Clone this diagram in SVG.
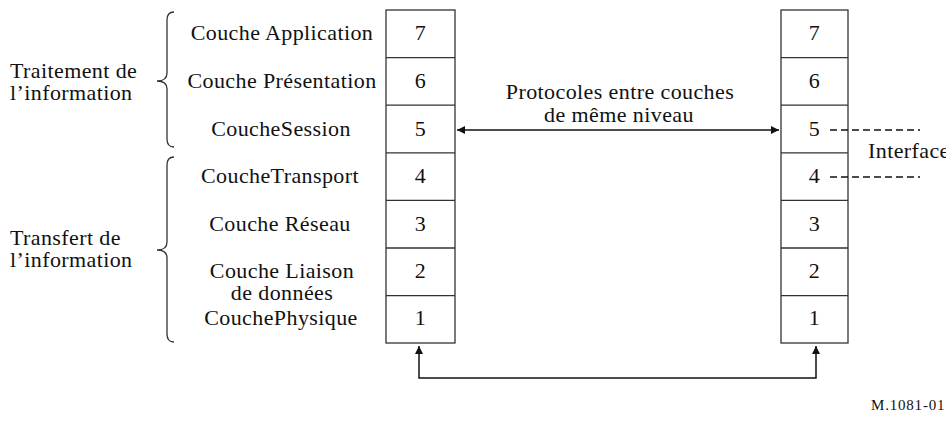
<svg xmlns="http://www.w3.org/2000/svg" width="946" height="423" viewBox="0 0 946 423">
<defs>
<marker id="ah" viewBox="0 0 10 10" refX="10" refY="5" markerWidth="8" markerHeight="8" markerUnits="userSpaceOnUse" orient="auto-start-reverse">
<path d="M0,0 L10,5 L0,10 z" fill="#111"/>
</marker>
<style>
text{font-family:"Liberation Serif","Times New Roman",serif;font-size:22px;letter-spacing:0.4px;fill:#111}
.c{text-anchor:middle}
.box{fill:#fff;stroke:#333;stroke-width:1.3}
.ln{fill:none;stroke:#111;stroke-width:1.5}
.br{fill:none;stroke:#333;stroke-width:1.3}
.dash{fill:none;stroke:#111;stroke-width:1.3;stroke-dasharray:7,4}
.sm{font-size:15px;letter-spacing:0.8px}
</style>
</defs>
<rect width="946" height="423" fill="#fff"/>

<g id="group-labels">
<text x="10" y="78">Traitement de</text>
<text x="10" y="100">l’information</text>
<text x="10" y="245">Transfert de</text>
<text x="10" y="267">l’information</text>
<path class="br" d="M174,12 Q167,12 167,20 V73 Q167,81 157,81 Q167,81 167,89 V139 Q167,147 174,147"/>
<path class="br" d="M174,157 Q167,157 167,165 V242 Q167,250 157,250 Q167,250 167,258 V334 Q167,342 174,342"/>
</g>

<g id="layer-names">
<text class="c" x="282" y="40">Couche Application</text>
<text class="c" x="282" y="88">Couche Présentation</text>
<text class="c" x="281" y="136">CoucheSession</text>
<text class="c" x="280" y="183">CoucheTransport</text>
<text class="c" x="280" y="231">Couche Réseau</text>
<text class="c" x="282" y="278">Couche Liaison</text>
<text class="c" x="282" y="300">de données</text>
<text class="c" x="281" y="325">CouchePhysique</text>
</g>

<g id="stack-left">
<rect class="box" x="386" y="10" width="69" height="333"/>
<path class="br" d="M386,57.6 H455 M386,105.2 H455 M386,152.8 H455 M386,200.4 H455 M386,248 H455 M386,295.6 H455"/>
<text class="c" x="420.5" y="40">7</text>
<text class="c" x="420.5" y="88">6</text>
<text class="c" x="420.5" y="136">5</text>
<text class="c" x="420.5" y="183">4</text>
<text class="c" x="420.5" y="231">3</text>
<text class="c" x="420.5" y="278">2</text>
<text class="c" x="420.5" y="325">1</text>
</g>

<g id="stack-right">
<rect class="box" x="781" y="10" width="67" height="333"/>
<path class="br" d="M781,57.6 H848 M781,105.2 H848 M781,152.8 H848 M781,200.4 H848 M781,248 H848 M781,295.6 H848"/>
<text class="c" x="814.5" y="40">7</text>
<text class="c" x="814.5" y="88">6</text>
<text class="c" x="814.5" y="136">5</text>
<text class="c" x="814.5" y="183">4</text>
<text class="c" x="814.5" y="231">3</text>
<text class="c" x="814.5" y="278">2</text>
<text class="c" x="814.5" y="325">1</text>
</g>

<g id="connectors">
<line class="ln" x1="457" y1="130" x2="779" y2="130" marker-start="url(#ah)" marker-end="url(#ah)"/>
<text class="c" x="620" y="99">Protocoles entre couches</text>
<text class="c" x="619" y="122">de même niveau</text>
<path class="ln" d="M419,346 V378 H816 V346" marker-start="url(#ah)" marker-end="url(#ah)"/>
<line class="dash" x1="830" y1="130" x2="920" y2="130"/>
<line class="dash" x1="830" y1="177" x2="920" y2="177"/>
<text x="868" y="158">Interface</text>
</g>

<text class="sm" x="871" y="410">M.1081-01</text>
</svg>
